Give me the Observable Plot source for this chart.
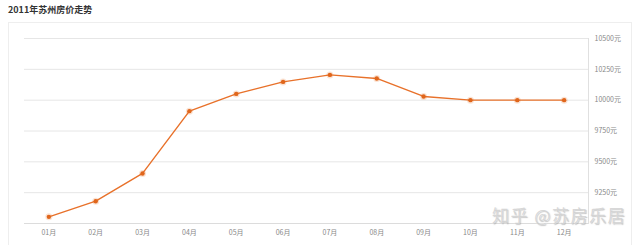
<!DOCTYPE html>
<html><head><meta charset="utf-8">
<script src="https://cdn.jsdelivr.net/npm/d3@7"></script>
<script src="https://cdn.jsdelivr.net/npm/@observablehq/plot@0.6"></script>
<style>
body{margin:0;background:#fff;font-family:"Noto Sans CJK SC","Noto Sans",sans-serif;}
#wrap{position:relative;width:640px;height:245px;overflow:hidden;}
#title{position:absolute;left:8px;top:3px;font-size:9px;font-weight:bold;color:#333;}
#panel{position:absolute;left:8px;top:22px;width:624px;height:240px;border:1px solid #eee;box-sizing:border-box;}
#chart{position:absolute;left:0;top:22px;}
#wm{position:absolute;left:492px;top:206px;font-size:17px;line-height:17px;color:rgba(200,200,200,0.7);text-shadow:0 0 2px #fff,1px 1px 1px rgba(120,120,120,0.5);letter-spacing:1.5px;}
</style></head><body>
<div id="wrap">
<div id="title">2011年苏州房价走势</div>
<div id="panel"></div>
<div id="chart"></div>
<div id="wm">知乎 @苏房乐居</div>
</div>
<script>
const months = ["01月","02月","03月","04月","05月","06月","07月","08月","09月","10月","11月","12月"];
const prices = [9054, 9181, 9406, 9911, 10051, 10148, 10205, 10176, 10030, 10000, 10000, 10000];
const yTicks = [9250, 9500, 9750, 10000, 10250, 10500];
const baseLine = [9000];

const data = months.map((m, i) => ({month: m, price: prices[i]}));
const color = "#e8712a";

const chart = Plot.plot({
  width: 640,
  height: 223,
  marginTop: 16,
  marginBottom: 22,
  marginLeft: 24,
  marginRight: 52,
  style: {fontFamily: '"Noto Sans CJK SC","Noto Sans",sans-serif', background: "transparent"},
  x: {type: "point", domain: months, padding: 0.52, round: false},
  y: {domain: [9000, 10500]},
  marks: [
    Plot.ruleY(yTicks, {stroke: "#e6e6e6", strokeWidth: 1}),
    Plot.ruleY(baseLine, {stroke: "#dcdcdc", strokeWidth: 1}),
    Plot.frame({anchor: "right", stroke: "#e0e0e0"}),
    Plot.axisY(yTicks, {anchor: "right", tickSize: 0, tickPadding: 6, fontSize: 7, fill: "#888", tickFormat: d => d + "元", label: null}),
    Plot.axisX(months, {anchor: "bottom", tickSize: 0, tickPadding: 7, fontSize: 7, fill: "#888", label: null}),
    Plot.line(data, {x: "month", y: "price", stroke: color, strokeWidth: 1.4}),
    Plot.dot(data, {x: "month", y: "price", r: 3.5, fill: color, fillOpacity: 0.2, stroke: "none"}),
    Plot.dot(data, {x: "month", y: "price", r: 2.2, fill: "#e0661c", stroke: "none"})
  ]
});
document.getElementById("chart").appendChild(chart);
</script>
</body></html>
